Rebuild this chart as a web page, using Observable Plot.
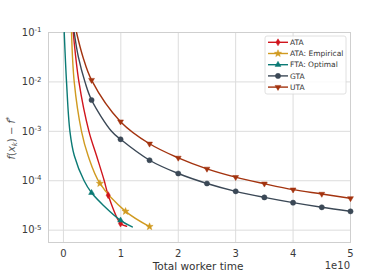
<!DOCTYPE html>
<html><head><meta charset="utf-8">
<script src="https://cdn.jsdelivr.net/npm/d3@7"></script>
<script src="https://cdn.jsdelivr.net/npm/@observablehq/plot@0.6"></script>
<style>
body{margin:0;background:#fff;}
svg{font-family:"DejaVu Sans",sans-serif;}
</style>
</head><body><div id="chart"></div>
<script>
// ---- data (x in units of 1e10) ----
const seriesNames = ["ATA", "ATA: Empirical", "FTA: Optimal", "GTA", "UTA"];
const seriesColors = ["#d0151d", "#d09a20", "#0b7a75", "#3b4856", "#a3330f"];

const ataX = [0.171, 0.27, 0.444, 0.577, 0.711, 0.78, 0.995, 1.10];
const ataY = [1e-1, 1e-2, 1e-3, 3.2e-4, 1e-4, 5.1e-5, 1.36e-5, 1.2e-5];
const ataMarked = [5, 6];

const empX = [0.141, 0.188, 0.315, 0.43, 0.636, 1.082, 1.5];
const empY = [1e-1, 1e-2, 1e-3, 3.2e-4, 8.8e-5, 2.4e-5, 1.18e-5];
const empMarked = [4, 5, 6];

const ftaX = [0.014, 0.054, 0.113, 0.19, 0.36, 0.49, 0.693, 0.995, 1.199];
const ftaY = [1e-1, 1e-2, 1e-3, 3.2e-4, 1e-4, 5.7e-5, 3.2e-5, 1.58e-5, 1.16e-5];
const ftaMarked = [5, 7];

const gtaX = [0.188, 0.26, 0.375, 0.49, 0.838, 0.995, 1.5, 2.0, 2.5, 3.0, 3.5, 4.0, 4.5, 5.0];
const gtaY = [1e-1, 3.2e-2, 1e-2, 4.3e-3, 1e-3, 6.9e-4, 2.6e-4, 1.4e-4, 8.8e-5, 6.1e-5, 4.6e-5, 3.6e-5, 2.9e-5, 2.4e-5];
const gtaMarked = [3, 5, 6, 7, 8, 9, 10, 11, 12, 13];

const utaX = [0.228, 0.34, 0.49, 0.995, 1.5, 2.0, 2.5, 3.0, 3.5, 4.0, 4.5, 5.0];
const utaY = [1e-1, 3.2e-2, 1.09e-2, 1.57e-3, 5.6e-4, 2.9e-4, 1.74e-4, 1.18e-4, 8.7e-5, 6.6e-5, 5.4e-5, 4.4e-5];
const utaMarked = [2, 3, 4, 5, 6, 7, 8, 9, 10, 11];

const xTicks = [0, 1, 2, 3, 4, 5];
const yTicks = [1e-5, 1e-4, 1e-3, 1e-2, 1e-1];

// ---- custom symbols ----
const thinDiamond = {draw(ctx, size){ const r = Math.sqrt(size/Math.PI)*1.25; ctx.moveTo(0,-r); ctx.lineTo(0.6*r,0); ctx.lineTo(0,r); ctx.lineTo(-0.6*r,0); ctx.closePath(); }};
const triUp = {draw(ctx, size){ const r = Math.sqrt(size/Math.PI)*1.2; ctx.moveTo(0,-r); ctx.lineTo(0.87*r,0.5*r); ctx.lineTo(-0.87*r,0.5*r); ctx.closePath(); }};
const triDown = {draw(ctx, size){ const r = Math.sqrt(size/Math.PI)*1.2; ctx.moveTo(0,r); ctx.lineTo(0.87*r,-0.5*r); ctx.lineTo(-0.87*r,-0.5*r); ctx.closePath(); }};
const starSym = {draw(ctx, size){ const R = Math.sqrt(size/Math.PI)*1.3, r = R*0.42; for (let i=0;i<10;i++){ const a = -Math.PI/2 + i*Math.PI/5; const rr = i%2 ? r : R; const px = rr*Math.cos(a), py = rr*Math.sin(a); if(i===0) ctx.moveTo(px,py); else ctx.lineTo(px,py);} ctx.closePath(); }};
const circ = d3.symbolCircle;
const symbols = [thinDiamond, starSym, triUp, circ, triDown];
const symbolR = [2.8, 2.9, 2.8, 2.6, 2.8];

const raw = [[ataX, ataY, ataMarked], [empX, empY, empMarked], [ftaX, ftaY, ftaMarked], [gtaX, gtaY, gtaMarked], [utaX, utaY, utaMarked]];
const lineData = raw.map(([xs, ys]) => xs.map((x, i) => ({x, y: ys[i]})));
const markData = raw.map(([xs, ys, m]) => m.map(i => ({x: xs[i], y: ys[i]})));

const sup = e => "10^" + String(Math.round(Math.log10(e)));

const marks = [
  Plot.gridX(xTicks, {stroke: "#dcdcdc", strokeOpacity: 1, strokeWidth: 1}),
  Plot.gridY(yTicks, {stroke: "#dcdcdc", strokeOpacity: 1, strokeWidth: 1}),
  Plot.frame({stroke: "#cfcfcf", strokeWidth: 1})
];
lineData.forEach((d, k) => {
  marks.push(Plot.line(d, {x: "x", y: "y", stroke: seriesColors[k], strokeWidth: 1.4, curve: "catmull-rom", clip: true}));
});
markData.forEach((d, k) => {
  marks.push(Plot.dot(d, {x: "x", y: "y", fill: seriesColors[k], stroke: seriesColors[k], strokeWidth: 0.5, symbol: symbols[k], r: symbolR[k]}));
});
marks.push(Plot.axisX(xTicks, {tickSize: 0, tickPadding: 7, fontSize: 10, fill: "#3a3a3a", label: null}));
marks.push(Plot.axisY(yTicks, {tickSize: 0, tickPadding: 7, fontSize: 10, fill: "#3a3a3a", label: null, tickFormat: sup}));

const chart = Plot.plot({
  width: 389, height: 272,
  marginLeft: 48, marginRight: 39, marginTop: 32, marginBottom: 30,
  style: {background: "#fff", fontFamily: "DejaVu Sans, sans-serif"},
  x: {domain: [-0.26, 5]},
  y: {type: "log", domain: [Math.pow(10, -5.25), 0.1]},
  marks
});
document.getElementById("chart").appendChild(chart);

const svg = d3.select(chart);
// superscripts on y tick labels
svg.selectAll('g[aria-label="y-axis tick label"] text').each(function(){
  const t = d3.select(this);
  const [b, e] = t.text().split("^");
  t.text(null);
  t.append("tspan").text(b);
  t.append("tspan").attr("dy", "-0.5em").attr("font-size", "7px").text(e);
});

// axis labels
svg.append("text").attr("x", 198).attr("y", 270).attr("text-anchor", "middle")
  .attr("font-size", 10.5).attr("fill", "#333").text("Total worker time");
svg.append("text").attr("x", 350).attr("y", 269).attr("text-anchor", "end")
  .attr("font-size", 10).attr("fill", "#3a3a3a").text("1e10");
const yl = svg.append("text").attr("transform", "translate(15,138) rotate(-90)")
  .attr("text-anchor", "middle").attr("font-size", 10).attr("fill", "#555");
yl.append("tspan").attr("font-style", "italic").text("f");
yl.append("tspan").text("(");
yl.append("tspan").attr("font-style", "italic").text("x");
yl.append("tspan").attr("font-style", "italic").attr("font-size", 7).attr("dy", 2).text("k");
yl.append("tspan").attr("dy", -2).text(") − ");
yl.append("tspan").attr("font-style", "italic").text("f");
yl.append("tspan").attr("font-size", 7).attr("dy", -4).text("*");

// legend
const lg = svg.append("g");
lg.append("rect").attr("x", 265).attr("y", 36).attr("width", 81).attr("height", 58).attr("rx", 2)
  .attr("fill", "#fff").attr("fill-opacity", 0.85).attr("stroke", "#d8d8d8").attr("stroke-width", 0.8);
seriesNames.forEach((name, k) => {
  const yy = 42.3 + k * 11.2;
  lg.append("line").attr("x1", 268).attr("x2", 288).attr("y1", yy).attr("y2", yy)
    .attr("stroke", seriesColors[k]).attr("stroke-width", 1.4);
  lg.append("path").attr("transform", `translate(278,${yy})`)
    .attr("d", d3.symbol(symbols[k], Math.PI * symbolR[k] * symbolR[k])())
    .attr("fill", seriesColors[k]).attr("stroke", seriesColors[k]).attr("stroke-width", 0.5);
  lg.append("text").attr("x", 290).attr("y", yy).attr("dy", "0.35em").attr("text-anchor", "start")
    .attr("font-size", 7.5).attr("fill", "#333").text(name);
});
</script>
</body></html>
